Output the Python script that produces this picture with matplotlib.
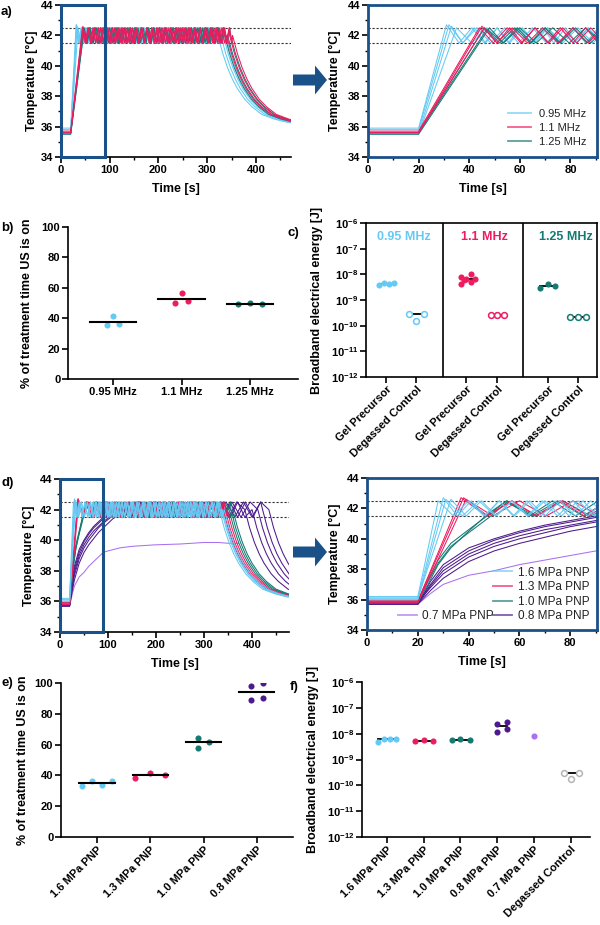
import numpy as np
import matplotlib
matplotlib.use('Agg')
import matplotlib.pyplot as plt
from matplotlib.patches import Rectangle, FancyArrow
from matplotlib.lines import Line2D
from matplotlib.ticker import MultipleLocator, FuncFormatter, NullLocator

plt.rcParams['font.family'] = ['Liberation Sans', 'DejaVu Sans']
plt.rcParams['font.weight'] = 'bold'
plt.rcParams['axes.labelweight'] = 'bold'
plt.rcParams['mathtext.fontset'] = 'custom'
plt.rcParams['mathtext.rm'] = 'Liberation Sans'
plt.rcParams['mathtext.bf'] = 'Liberation Sans:bold'
plt.rcParams['axes.linewidth'] = 1.2

W, H = 600, 925

LBLUE, PINK, TEAL = '#64caf4', '#ee1b5f', '#147a73'
PURPLE, LAV, GREY, NAVY = '#4c1a8c', '#a970f0', '#b5b5b5', '#1b5189'

LO, HI = 41.5, 42.5   # thermostat window (dotted lines)

# cooling after US is switched off: seconds after stop, temperature
DECAY_T = [0, 10, 20, 30, 40, 55, 70, 90, 115, 140, 170]
DECAY_Y = [42.0, 40.8, 39.85, 39.1, 38.5, 37.8, 37.3, 36.8, 36.5, 36.3, 36.15]

# a) one row per trace: baseline, time of first peak, first peak temp, cycle length, time US stops
A_095 = [[35.9, 31, 42.7, 10, 322], [35.8, 32, 42.7, 11, 328],
         [35.6, 33, 42.6, 9, 333], [35.5, 35, 42.5, 12, 338]]
A_110 = [[35.7, 44, 42.5, 11, 340], [35.6, 45, 42.6, 12, 346], [35.6, 46, 42.5, 10, 352]]
A_125 = [[35.6, 46, 42.5, 12, 336], [35.5, 48, 42.5, 11, 342], [35.6, 47, 42.4, 13, 348]]

# d) same layout for the fast-heating groups
D_16 = [[36.2, 28, 42.5, 12, 332], [36.1, 30, 42.7, 11, 336],
        [36.0, 31, 42.6, 13, 338], [36.1, 33, 42.6, 12, 342]]
D_13 = [[35.9, 37, 42.7, 20, 340], [35.9, 38, 42.7, 19, 344], [35.8, 39, 42.6, 21, 348]]

# d) slower groups: explicit heating curves, then cycle length and stop time
D_10_T = [0, 20, 24, 28, 33, 40, 48, 55]
D_10_Y = [[35.8, 35.8, 37.3, 38.6, 39.7, 40.6, 41.6, 42.5],
          [35.9, 35.9, 37.2, 38.4, 39.5, 40.4, 41.4, 42.4],
          [35.8, 35.8, 37.0, 38.3, 39.4, 40.5, 41.7, 42.5]]
D_10_CYC = [18, 20, 22]
D_10_END = [352, 356, 360]

D_08_T = [0, 20, 25, 30, 40, 50, 60, 70, 80, 90, 110, 130]
D_08_Y = [[35.7, 35.7, 37.2, 38.3, 39.4, 40.0, 40.5, 40.9, 41.2, 41.5, 41.9, 42.2],
          [35.8, 35.8, 37.0, 38.1, 39.2, 39.9, 40.4, 40.8, 41.1, 41.4, 41.8, 42.1],
          [35.7, 35.7, 36.9, 37.9, 39.0, 39.7, 40.2, 40.6, 40.9, 41.2, 41.7, 42.0],
          [35.8, 35.8, 36.8, 37.7, 38.8, 39.5, 40.0, 40.4, 40.8, 41.1, 41.6, 41.9],
          [35.7, 35.7, 36.6, 37.4, 38.5, 39.2, 39.7, 40.1, 40.5, 40.8, 41.4, 41.8]]
D_08_CYC = [34, 30, 38, 32, 36]
D_08_END = [385, 400, 412, 422, 435]

D_07_T = [0, 20, 25, 30, 40, 50, 60, 70, 80, 90, 100, 125, 150, 200, 250, 300, 330, 350, 372]
D_07_Y = [35.7, 35.7, 36.4, 37.0, 37.6, 37.9, 38.3, 38.6, 38.9, 39.2, 39.3, 39.5, 39.6,
          39.7, 39.75, 39.85, 39.85, 39.8, 39.8]

# b) % of treatment time US is on
B_CATS = ['0.95 MHz', '1.1 MHz', '1.25 MHz']
B_VALS = [[35.4, 41.4, 36.5], [50.1, 56.9, 51.6], [49.2, 50.1, 49.5]]

# c) broadband energy, gel precursor vs degassed control
C_GROUPS = ['0.95 MHz', '1.1 MHz', '1.25 MHz']
C_TICKS = ['Gel Precursor', 'Degassed Control'] * 3
C_GP = [[4.0e-9, 4.4e-9, 4.2e-9, 4.6e-9],
        [4.3e-9, 7.9e-9, 5.8e-9, 6.8e-9, 1.0e-8, 5.0e-9, 6.4e-9],
        [3.0e-9, 4.1e-9, 3.5e-9]]
C_DC = [[2.9e-10, 1.5e-10, 2.9e-10], [2.5e-10, 2.5e-10, 2.5e-10], [2.2e-10, 2.2e-10, 2.2e-10]]

# e) % of treatment time US is on vs PNP
E_CATS = ['1.6 MPa PNP', '1.3 MPa PNP', '1.0 MPa PNP', '0.8 MPa PNP']
E_VALS = [[33.3, 36.5, 33.9, 36.5], [38.3, 41.5, 40.2], [64.1, 58.0, 62.0], [98.0, 88.9, 100.2, 90.0]]

# f) broadband energy vs PNP
F_CATS = ['1.6 MPa PNP', '1.3 MPa PNP', '1.0 MPa PNP', '0.8 MPa PNP', '0.7 MPa PNP', 'Degassed Control']
F_VALS = [[4.8e-9, 6.4e-9, 6.3e-9, 6.3e-9], [5.3e-9, 5.9e-9, 5.3e-9], [5.6e-9, 6.4e-9, 5.9e-9],
          [2.3e-8, 1.15e-8, 2.8e-8, 1.5e-8], [7.9e-9], [3.0e-10, 1.8e-10, 3.0e-10]]

# layout: jitter of the dots inside each column
B_OFF = [[-0.09, 0, 0.09], [-0.09, 0, 0.09], [-0.18, 0, 0.18]]
C_POS = [0, 1, 2.67, 3.7, 5.4, 6.4]
C_GP_OFF = [[-0.26, -0.09, 0.08, 0.24], [-0.19, -0.19, -0.08, 0.0, 0.14, 0.14, 0.28], [-0.26, 0, 0.22]]
C_DC_OFF = [[-0.24, 0, 0.26], [-0.22, 0, 0.24], [-0.26, 0, 0.26]]
E_OFF = [[-0.28, -0.09, 0.09, 0.28], [-0.28, 0, 0.28], [-0.1, -0.1, 0.11], [-0.11, -0.11, 0.11, 0.11]]
F_OFF = [[-0.25, -0.08, 0.08, 0.25], [-0.25, 0, 0.25], [-0.23, 0, 0.25],
         [0, 0, 0.26, 0.26], [0], [-0.18, 0, 0.23]]


def trace(rise_t, rise_y, period, t_end):
    ts, ys = list(rise_t), list(rise_y)
    t, lvl = rise_t[-1], LO
    while t + period / 2 < t_end:
        t += period / 2
        ts.append(t)
        ys.append(lvl)
        lvl = HI if lvl == LO else LO
    ts += [t_end + d for d in DECAY_T]
    ys += DECAY_Y
    return ts, ys


def simple(row):
    base, t_pk, y_pk, per, t_end = row
    return trace([0, 20, t_pk], [base, base, y_pk], per, t_end)


fig = plt.figure(figsize=(W / 100, H / 100), dpi=100)

ov = fig.add_axes([0, 0, 1, 1])
ov.set_xlim(0, W)
ov.set_ylim(H, 0)
ov.axis('off')


def add_ax(l, t, r, b):
    return fig.add_axes([l / W, 1 - b / H, (r - l) / W, (b - t) / H])


def ylab(ax, text, x_px, box):
    ax.set_ylabel(text, fontsize=9)
    ax.yaxis.set_label_coords((x_px - box[0]) / (box[2] - box[0]), 0.5)


def style(ax):
    ax.tick_params(which='major', direction='out', length=4, width=1.2, labelsize=8, pad=1.5)
    ax.tick_params(which='minor', direction='out', length=2.5, width=1.0)
    for lab in ax.get_xticklabels() + ax.get_yticklabels():
        lab.set_fontweight('bold')


def temp_axes(box, xmax, major, minor, zoom):
    ax = add_ax(*box)
    ax.set_xlim(0, xmax)
    ax.set_ylim(34, 44)
    ax.xaxis.set_major_locator(MultipleLocator(major))
    ax.xaxis.set_minor_locator(MultipleLocator(minor))
    ax.yaxis.set_major_locator(MultipleLocator(2))
    ax.yaxis.set_minor_locator(MultipleLocator(1))
    for y in (LO, HI):
        ax.axhline(y, color='#333333', lw=0.8, ls=(0, (2, 1.6)), zorder=1)
    if zoom:
        for s in ax.spines.values():
            s.set_color(NAVY)
            s.set_linewidth(2)
    else:
        ax.spines[['top', 'right']].set_visible(False)
        ax.add_patch(Rectangle((0, 34), 90, 10, fill=False, ec=NAVY, lw=2.2, clip_on=False, zorder=5))
    ax.set_xlabel('Time [s]', fontsize=9)
    ax.xaxis.set_label_coords(0.5, -0.17)
    style(ax)
    return ax


LW = 0.75
LEG = dict(frameon=False, prop={'size': 8, 'weight': 'normal'}, labelcolor='#222222')

# ---------------- a) ----------------
box_a, box_az = (61, 5, 291, 157), (368, 5, 597, 157)
ax_a = temp_axes(box_a, 472, 100, 50, False)
ax_az = temp_axes(box_az, 90.5, 20, 10, True)
for ax in (ax_a, ax_az):
    for rows, col in ((A_095, LBLUE), (A_125, TEAL), (A_110, PINK)):
        for row in rows:
            ts, ys = simple(row)
            ax.plot(ts, ys, color=col, lw=LW, zorder=2)
ylab(ax_a, 'Temperature [°C]', 38, box_a)
ylab(ax_az, 'Temperature [°C]', 341, box_az)
h = [Line2D([], [], color=c, lw=1.3, alpha=0.7) for c in (LBLUE, PINK, TEAL)]
ax_az.legend(h, ['0.95 MHz', '1.1 MHz', '1.25 MHz'], loc='lower right', handlelength=2.0,
             labelspacing=0.35, borderaxespad=0.5, **LEG)

# ---------------- d) ----------------
box_d, box_dz = (60, 479, 289, 632), (367, 478, 597, 630)
ax_d = temp_axes(box_d, 477, 100, 50, False)
ax_dz = temp_axes(box_dz, 90.5, 20, 10, True)
for ax in (ax_d, ax_dz):
    ax.plot(D_07_T, D_07_Y, color=LAV, lw=LW, zorder=2)
    for ys, per, te in zip(D_08_Y, D_08_CYC, D_08_END):
        ts, yy = trace(D_08_T, ys, per, te)
        ax.plot(ts, yy, color=PURPLE, lw=LW, zorder=2)
    for ys, per, te in zip(D_10_Y, D_10_CYC, D_10_END):
        ts, yy = trace(D_10_T, ys, per, te)
        ax.plot(ts, yy, color=TEAL, lw=LW, zorder=2)
    for rows, col in ((D_13, PINK), (D_16, LBLUE)):
        for row in rows:
            ts, yy = simple(row)
            ax.plot(ts, yy, color=col, lw=LW, zorder=2)
ylab(ax_d, 'Temperature [°C]', 35, box_d)
ylab(ax_dz, 'Temperature [°C]', 341, box_dz)

leg_d = dict(LEG, prop={'size': 8.5, 'weight': 'normal'})
h = [Line2D([], [], color=c, lw=1.3, alpha=0.7) for c in (LBLUE, PINK, TEAL, PURPLE)]
leg1 = ax_dz.legend(h, ['1.6 MPa PNP', '1.3 MPa PNP', '1.0 MPa PNP', '0.8 MPa PNP'],
                    loc='lower right', handlelength=1.6, labelspacing=0.22, borderaxespad=0.25,
                    handletextpad=0.5, **leg_d)
ax_dz.add_artist(leg1)
ax_dz.legend([Line2D([], [], color=LAV, lw=1.3, alpha=0.7)], ['0.7 MPa PNP'],
             loc='lower left', bbox_to_anchor=(0.1, 0.0), handlelength=1.6,
             borderaxespad=0.25, handletextpad=0.5, **leg_d)

# arrows
for yc in (80, 552):
    ov.add_patch(FancyArrow(293, yc, 34, 0, width=11, head_width=29, head_length=12,
                            length_includes_head=True, color=NAVY, lw=0))


def dot_panel(box, cats, vals, offs, cols, xlim, half, rot):
    ax = add_ax(*box)
    for i, (v, o, c) in enumerate(zip(vals, offs, cols)):
        ax.plot([i + d for d in o], v, 'o', color=c, ms=4.4, mew=0, zorder=2)
        ax.plot([i - half, i + half], [np.mean(v)] * 2, color='k', lw=1.5, zorder=3)
    ax.set_xlim(*xlim)
    ax.set_xticks(range(len(cats)))
    ax.spines[['top', 'right']].set_visible(False)
    style(ax)
    if rot:
        ax.set_xticklabels(cats, rotation=45, ha='right', rotation_mode='anchor', fontweight='bold')
    else:
        ax.set_xticklabels(cats, fontweight='bold')
    return ax


# ---------------- b) ----------------
box_b = (68, 227, 298, 379)
ax_b = dot_panel(box_b, B_CATS, B_VALS, B_OFF, [LBLUE, PINK, TEAL], (-0.657, 2.70), 0.34, False)
ax_b.set_ylim(0, 100)
ax_b.yaxis.set_major_locator(MultipleLocator(20))
ylab(ax_b, '% of treatment time US is on', 33, box_b)

# ---------------- e) ----------------
box_e = (61, 683, 293, 837)
ax_e = dot_panel(box_e, E_CATS, E_VALS, E_OFF, [LBLUE, PINK, TEAL, PURPLE], (-0.675, 3.68), 0.33, True)
ax_e.set_ylim(0, 100)
ax_e.yaxis.set_major_locator(MultipleLocator(20))
ylab(ax_e, '% of treatment time US is on', 29, box_e)

log_fmt = FuncFormatter(lambda v, p: r'$\mathbf{10^{%d}}$' % int(round(np.log10(v))))


def log_y(ax):
    ax.set_yscale('log')
    ax.set_ylim(1e-12, 1e-6)
    ax.set_yticks([10.0 ** k for k in range(-12, -5)])
    ax.yaxis.set_minor_locator(NullLocator())
    ax.yaxis.set_major_formatter(log_fmt)
    style(ax)


# ---------------- c) ----------------
box_c = (366, 223, 597, 377)
ax_c = add_ax(*box_c)
log_y(ax_c)
gcols = [LBLUE, PINK, TEAL]
for g in range(3):
    p_gp, p_dc = C_POS[2 * g], C_POS[2 * g + 1]
    xs = [p_gp + d for d in C_GP_OFF[g]]
    ax_c.plot([min(xs), max(xs)], [np.median(C_GP[g])] * 2, color='k', lw=1.3, zorder=2)
    ax_c.plot(xs, C_GP[g], 'o', color=gcols[g], ms=4.4, mew=0, zorder=3)
    xs = [p_dc + d for d in C_DC_OFF[g]]
    ax_c.plot([min(xs), max(xs)], [np.median(C_DC[g])] * 2, color='k', lw=1.3, zorder=2)
    ax_c.plot(xs, C_DC[g], 'o', mfc='white', mec=gcols[g], ms=4.2, mew=1.1, zorder=3)
    ax_c.text((p_gp + p_dc) / 2 + 0.1, 2.8e-7, C_GROUPS[g], color=gcols[g], fontsize=9,
              fontweight='bold', ha='center', va='center')
for xv in (1.9, 4.57):
    ax_c.axvline(xv, color='k', lw=1.2)
ax_c.set_xlim(-0.68, 7.03)
ax_c.set_xticks(C_POS)
ax_c.set_xticklabels(C_TICKS, rotation=45, ha='right', rotation_mode='anchor', fontweight='bold')
style(ax_c)
ylab(ax_c, 'Broadband electrical energy [J]', 323, box_c)

# ---------------- f) ----------------
box_f = (362, 682, 590, 837)
ax_f = add_ax(*box_f)
log_y(ax_f)
fcols = [LBLUE, PINK, TEAL, PURPLE, LAV, GREY]
for i, (v, o, c) in enumerate(zip(F_VALS, F_OFF, fcols)):
    xs = [i + d for d in o]
    if len(v) > 1:
        ax_f.plot([min(xs), max(xs)], [np.median(v)] * 2, color='k', lw=1.3, zorder=2)
    if i == len(F_VALS) - 1:
        ax_f.plot(xs, v, 'o', mfc='white', mec=c, ms=4.2, mew=1.1, zorder=3)
    else:
        ax_f.plot(xs, v, 'o', color=c, ms=4.4, mew=0, zorder=3)
ax_f.set_xlim(-0.68, 5.53)
ax_f.set_xticks(range(len(F_CATS)))
ax_f.set_xticklabels(F_CATS, rotation=45, ha='right', rotation_mode='anchor', fontweight='bold')
ax_f.spines[['top', 'right']].set_visible(False)
style(ax_f)
ylab(ax_f, 'Broadband electrical energy [J]', 319, box_f)

# panel letters
for lab, x, y in (('a)', 1, 12), ('b)', 1, 228), ('c)', 288, 233), ('d)', 1, 483),
                  ('e)', 1, 683), ('f)', 290, 687)):
    fig.text(x / W, 1 - y / H, lab, fontsize=9.5, fontweight='bold', va='center', ha='left')

fig.savefig('out.png', dpi=100)
